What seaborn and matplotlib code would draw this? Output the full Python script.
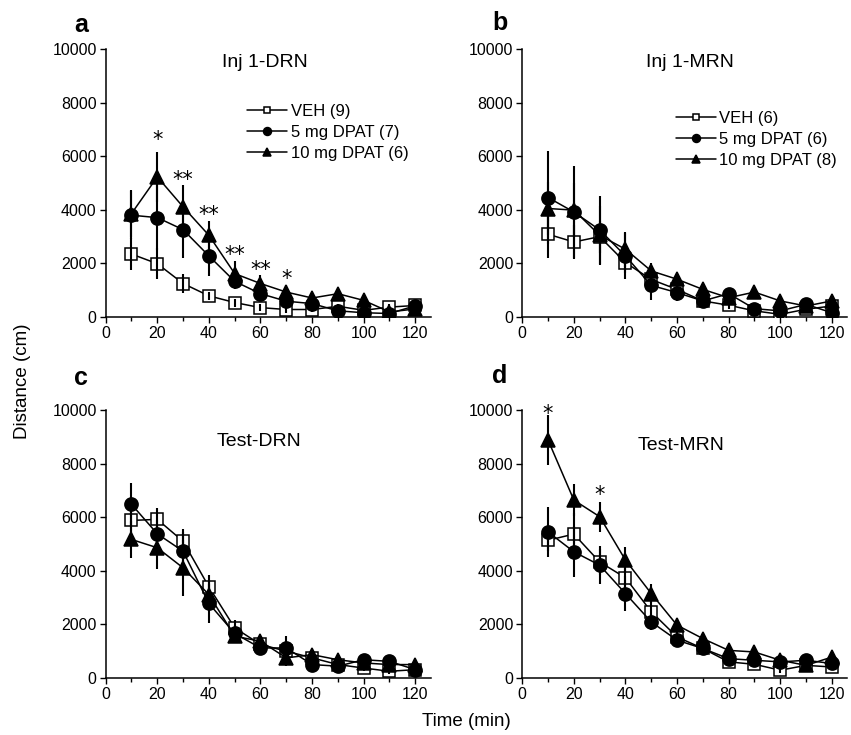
import matplotlib
matplotlib.use("Agg")
import matplotlib.pyplot as plt
import numpy as np
import pandas as pd
import seaborn as sns

# time bins (min)
time = [10, 20, 30, 40, 50, 60, 70, 80, 90, 100, 110, 120]

# a: Inj 1-DRN
a_veh = [2350, 1990, 1250, 790, 540, 350, 280, 280, 400, 250, 370, 430]
a_5mg = [3800, 3710, 3260, 2280, 1330, 870, 590, 500, 230, 160, 130, 420]
a_10mg = [3860, 5230, 4110, 3050, 1620, 1250, 930, 710, 870, 620, 190, 300]
a_veh_err = [600, 580, 350, 150, 150, 120, 120, 100, 100, 100, 100, 100]
a_5mg_err = [900, 1200, 1050, 760, 300, 250, 200, 150, 100, 100, 100, 150]
a_10mg_err = [870, 930, 810, 540, 460, 300, 250, 150, 150, 150, 100, 100]

# b: Inj 1-MRN
b_veh = [3090, 2800, 3000, 2030, 1400, 1030, 600, 440, 230, 100, 290, 410]
b_5mg = [4460, 3920, 3250, 2280, 1180, 910, 600, 870, 310, 230, 470, 160]
b_10mg = [4050, 3990, 3050, 2530, 1720, 1410, 1030, 720, 930, 600, 410, 600]
b_veh_err = [900, 650, 600, 400, 300, 200, 150, 150, 100, 100, 100, 100]
b_5mg_err = [1750, 1700, 1270, 850, 550, 300, 200, 150, 150, 100, 100, 100]
b_10mg_err = [1000, 1000, 1100, 650, 300, 200, 200, 150, 150, 150, 100, 100]

# c: Test-DRN
c_veh = [5880, 5920, 5100, 3400, 1870, 1250, 1000, 750, 500, 370, 250, 310]
c_5mg = [6480, 5380, 4730, 2780, 1660, 1120, 1120, 500, 440, 680, 620, 310]
c_10mg = [5170, 4860, 4110, 3110, 1560, 1370, 750, 870, 680, 560, 500, 500]
c_veh_err = [500, 430, 450, 450, 300, 200, 200, 150, 100, 100, 100, 100]
c_5mg_err = [800, 500, 700, 730, 300, 200, 450, 150, 100, 100, 100, 100]
c_10mg_err = [700, 800, 1050, 500, 250, 200, 300, 200, 150, 100, 100, 100]

# d: Test-MRN
d_veh = [5140, 5370, 4330, 3740, 2470, 1530, 1100, 600, 510, 290, 470, 410]
d_5mg = [5450, 4710, 4210, 3150, 2090, 1410, 1100, 720, 660, 600, 660, 540]
d_10mg = [8880, 6640, 6020, 4400, 3150, 1970, 1470, 1030, 970, 660, 470, 780]
d_veh_err = [400, 800, 500, 500, 350, 200, 150, 150, 100, 100, 100, 100]
d_5mg_err = [950, 950, 720, 650, 300, 200, 150, 150, 100, 100, 100, 100]
d_10mg_err = [930, 600, 560, 470, 350, 250, 200, 150, 150, 150, 100, 100]

titles = ["Inj 1-DRN", "Inj 1-MRN", "Test-DRN", "Test-MRN"]
legend_a = ["VEH (9)", "5 mg DPAT (7)", "10 mg DPAT (6)"]
legend_b = ["VEH (6)", "5 mg DPAT (6)", "10 mg DPAT (8)"]
stars_a = [(20, 6850, "*"), (30, 5350, "**"), (40, 4050, "**"), (50, 2550, "**"),
           (60, 2000, "**"), (70, 1680, "*")]
stars_d = [(10, 10120, "*"), (30, 7070, "*")]

sns.set_style("ticks")
plt.rcParams["font.family"] = ["Liberation Sans", "DejaVu Sans"]
plt.rcParams["text.color"] = "black"
plt.rcParams["axes.labelcolor"] = "black"
plt.rcParams["xtick.color"] = "black"
plt.rcParams["ytick.color"] = "black"
plt.rcParams["xtick.direction"] = "out"
plt.rcParams["ytick.direction"] = "out"

fig = plt.figure(figsize=(8.51, 7.35), dpi=100)
W = 0.382
H = 0.3645
pos = [[0.1242, 0.5687, W, H], [0.6137, 0.5687, W, H],
       [0.1242, 0.0776, W, H], [0.6137, 0.0776, W, H]]

panels = [
    (a_veh, a_5mg, a_10mg, a_veh_err, a_5mg_err, a_10mg_err),
    (b_veh, b_5mg, b_10mg, b_veh_err, b_5mg_err, b_10mg_err),
    (c_veh, c_5mg, c_10mg, c_veh_err, c_5mg_err, c_10mg_err),
    (d_veh, d_5mg, d_10mg, d_veh_err, d_5mg_err, d_10mg_err),
]
styles = [
    dict(marker="s", markerfacecolor="white", markersize=8),
    dict(marker="o", markerfacecolor="black", markersize=9.5),
    dict(marker="^", markerfacecolor="black", markersize=10.5),
]
title_xy = [(0.49, 0.95), (0.516, 0.95), (0.473, 0.884), (0.489, 0.869)]

for i, (p, rect) in enumerate(zip(panels, pos)):
    ax = fig.add_axes(rect)
    means = p[:3]
    errs = p[3:]
    labels = legend_a if i == 0 else legend_b
    for k in range(3):
        df = pd.DataFrame({"time": time, "dist": means[k]})
        sns.lineplot(data=df, x="time", y="dist", ax=ax, color="black", lw=1.1,
                     markeredgecolor="black", markeredgewidth=1.1,
                     label=labels[k], zorder=3 + k, **styles[k])
        ax.errorbar(time, means[k], yerr=errs[k], fmt="none", ecolor="black",
                    elinewidth=1.5, capsize=0, zorder=3 + k)
    ax.set_xlim(0, 126)
    ax.set_ylim(0, 10000)
    ax.set_xticks(range(0, 121, 20))
    ax.set_xticks(range(10, 121, 20), minor=True)
    ax.set_yticks(range(0, 10001, 2000))
    ax.tick_params(axis="both", which="major", length=4.5, width=1, labelsize=11.5,
                   pad=2, colors="black")
    ax.tick_params(axis="x", which="minor", length=3, width=1, colors="black")
    for s in ["left", "bottom"]:
        ax.spines[s].set_linewidth(1.1)
        ax.spines[s].set_color("black")
    sns.despine(ax=ax)
    ax.set_xlabel("")
    ax.set_ylabel("")
    ax.text(title_xy[i][0], title_xy[i][1], titles[i], transform=ax.transAxes,
            ha="center", va="center", fontsize=14, color="black")
    if i < 2:
        anchor = (0.41, 0.825) if i == 0 else (0.447, 0.80)
        leg = ax.legend(loc="upper left", bbox_to_anchor=anchor, frameon=False,
                        fontsize=12, handlelength=2.4, handletextpad=0.2,
                        labelspacing=0.36, borderpad=0, markerscale=0.6)
        for t in leg.get_texts():
            t.set_color("black")
    else:
        ax.get_legend().remove()
    stars = stars_a if i == 0 else (stars_d if i == 3 else [])
    for x, y, s in stars:
        ax.text(x, y - 250, s, ha="center", va="center", fontsize=15,
                family="DejaVu Sans", color="black")

# panel letters
fig.text(81 / 851, 1 - 25 / 735, "a", fontsize=18, fontweight="bold", ha="center", va="center")
fig.text(500 / 851, 1 - 23 / 735, "b", fontsize=18, fontweight="bold", ha="center", va="center")
fig.text(81 / 851, 1 - 378 / 735, "c", fontsize=18, fontweight="bold", ha="center", va="center")
fig.text(500 / 851, 1 - 376 / 735, "d", fontsize=18, fontweight="bold", ha="center", va="center")

fig.text(23 / 851, 1 - 381 / 735, "Distance (cm)", rotation=90, fontsize=13.5,
         ha="center", va="center")
fig.text(466 / 851, 1 - 722 / 735, "Time (min)", fontsize=13.5, ha="center", va="center")

fig.savefig("out.png", dpi=100, facecolor="white")
